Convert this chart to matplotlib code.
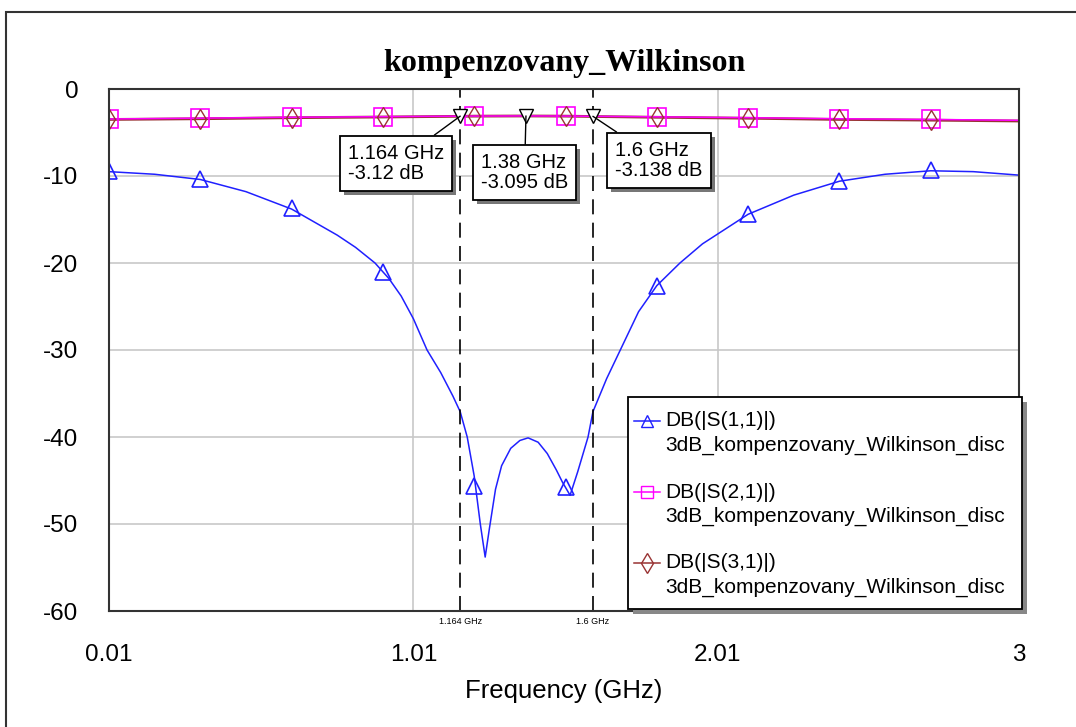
import matplotlib
matplotlib.use("Agg")
import matplotlib.pyplot as plt
import matplotlib.patheffects as pe
from matplotlib.lines import Line2D
from matplotlib.patches import Rectangle

# --- data ---
s11_freq = [0.01, 0.16, 0.31, 0.46, 0.61, 0.76, 0.82, 0.884, 0.93, 0.97, 1.01, 1.055, 1.10,
            1.14, 1.164, 1.187, 1.21, 1.23, 1.246, 1.26, 1.28, 1.30, 1.33, 1.36, 1.387, 1.42,
            1.45, 1.48, 1.50, 1.525, 1.55, 1.584, 1.60, 1.645, 1.69, 1.75, 1.81, 1.886, 1.96,
            2.11, 2.26, 2.41, 2.56, 2.71, 2.85, 3.0]
s11_db = [-9.5, -9.8, -10.4, -11.8, -13.8, -16.8, -18.2, -20.0, -21.8, -23.8, -26.4, -30.0, -32.6,
          -35.3, -37.1, -40.0, -44.5, -50.0, -53.8, -50.5, -46.0, -43.3, -41.3, -40.4, -40.1, -40.6,
          -41.9, -43.8, -45.2, -46.7, -44.0, -40.0, -37.1, -33.3, -30.0, -25.6, -22.6, -20.0, -17.8,
          -14.4, -12.2, -10.6, -9.8, -9.4, -9.5, -9.9]

s21_freq = [0.01, 0.31, 0.61, 0.91, 1.164, 1.21, 1.38, 1.51, 1.6, 1.81, 2.11, 2.41, 2.71, 3.0]
s21_db = [-3.45, -3.35, -3.25, -3.18, -3.12, -3.11, -3.095, -3.11, -3.138, -3.2, -3.3, -3.42, -3.5, -3.6]

s31_freq = [0.01, 0.31, 0.61, 0.91, 1.164, 1.21, 1.38, 1.51, 1.6, 1.81, 2.11, 2.41, 2.71, 3.0]
s31_db = [-3.5, -3.42, -3.3, -3.22, -3.14, -3.12, -3.10, -3.12, -3.16, -3.25, -3.36, -3.5, -3.58, -3.68]

marker_freq = [0.01, 0.31, 0.61, 0.91, 1.21, 1.51, 1.81, 2.11, 2.41, 2.71]
s11_mk_db = [-9.4, -10.3, -13.7, -21.0, -45.6, -45.7, -22.6, -14.4, -10.6, -9.3]
s21_mk_db = [-3.4, -3.35, -3.25, -3.18, -3.11, -3.11, -3.2, -3.3, -3.42, -3.5]
s31_mk_db = [-3.45, -3.4, -3.3, -3.22, -3.13, -3.12, -3.25, -3.36, -3.5, -3.58]

mark_freq = [1.164, 1.38, 1.6]
mark_db = [-3.12, -3.095, -3.138]
mark_text = ["1.164 GHz\n-3.12 dB", "1.38 GHz\n-3.095 dB", "1.6 GHz\n-3.138 dB"]
mark_box_xy = [(0.795, -6.3), (1.232, -7.35), (1.673, -5.95)]
vline_freq = [1.164, 1.6]
vline_text = ["1.164 GHz", "1.6 GHz"]

xticks = [0.01, 1.01, 2.01, 3]
xtick_labels = ["0.01", "1.01", "2.01", "3"]
yticks = [0, -10, -20, -30, -40, -50, -60]

legend_names = ["DB(|S(1,1)|)", "DB(|S(2,1)|)", "DB(|S(3,1)|)"]
legend_source = "3dB_kompenzovany_Wilkinson_disc"

c11 = "#2020ff"
c21 = "#ff00ff"
c31 = "#993333"

plt.rcParams["font.family"] = ["Liberation Sans", "DejaVu Sans"]
plt.rcParams["axes.unicode_minus"] = False

W, H = 1076, 727
fig = plt.figure(figsize=(W / 100, H / 100), dpi=100)
ax = fig.add_axes([109 / W, 1 - 611 / H, 910 / W, 522 / H])


def px(x, y):
    # pixel position (from top-left) -> figure fraction
    return x / W, 1 - y / H


# outer frame
fig.patches.append(Rectangle((0.006, -0.05), 1.2, 1.034, transform=fig.transFigure,
                             fill=False, edgecolor="#333333", linewidth=1.5))

ax.plot(s11_freq, s11_db, color=c11, lw=1.1)
ax.plot(marker_freq, s11_mk_db, ls="none", marker="^", ms=12, mfc="none", mec=c11, mew=1.2)

ax.plot(s31_freq, s31_db, color=c31, lw=2.0)
ax.plot(s21_freq, s21_db, color=c21, lw=1.1)
ax.plot(marker_freq, s21_mk_db, ls="none", marker="s", ms=13, mfc="none", mec=c21, mew=1.2)
ax.plot(marker_freq, s31_mk_db, ls="none", marker="d", ms=10, mfc="none", mec=c31, mew=1.0)

for f in vline_freq:
    ax.axvline(f, color="black", lw=1.2, ls=(0, (9, 5)))

ax.plot(mark_freq, mark_db, ls="none", marker="v", ms=10, mfc="white", mec="black", mew=1.0, zorder=5)
for f, d, t, xy in zip(mark_freq, mark_db, mark_text, mark_box_xy):
    a = ax.annotate(t, xy=(f, d), xytext=xy, textcoords="data", ha="left", va="top",
                    fontsize=14.5, linespacing=1.05,
                    bbox=dict(boxstyle="square,pad=0.4", fc="white", ec="black", lw=1.3),
                    arrowprops=dict(arrowstyle="-", color="black", lw=1.0, shrinkA=0, shrinkB=0),
                    zorder=6)
    a.get_bbox_patch().set_path_effects([pe.SimplePatchShadow(offset=(3, -3), shadow_rgbFace="#777777", alpha=1.0),
                                         pe.Normal()])

for f, t in zip(vline_freq, vline_text):
    ax.text(f, -0.012, t, transform=ax.get_xaxis_transform(), ha="center", va="top", fontsize=6.5)

ax.set_xlim(0.01, 3)
ax.set_ylim(-60, 0)
ax.set_xticks(xticks)
ax.set_xticklabels(xtick_labels)
ax.set_yticks(yticks)
ax.tick_params(axis="y", length=0, labelsize=17.5, pad=22)
ax.tick_params(axis="x", length=0, labelsize=17.5, pad=24)
ax.grid(True, color="#c8c8c8", lw=1.2)
ax.set_axisbelow(True)
for s in ax.spines.values():
    s.set_linewidth(1.5)
    s.set_color("#333333")

ax.set_xlabel("Frequency (GHz)", fontsize=18.5, labelpad=9)
ax.set_title("kompenzovany_Wilkinson", fontsize=23, fontweight="bold",
             family=["Liberation Serif", "DejaVu Serif"], pad=13)

# legend box drawn as in the reference (handle on first text line)
lx0, ly0, lx1, ly1 = 628, 397, 1022, 609
fig.patches.append(Rectangle(px(lx0 + 5, ly1 + 5), (lx1 - lx0) / W, (ly1 - ly0) / H,
                             transform=fig.transFigure, fc="#888888", ec="none", zorder=7))
fig.patches.append(Rectangle(px(lx0, ly1), (lx1 - lx0) / W, (ly1 - ly0) / H,
                             transform=fig.transFigure, fc="white", ec="black", lw=1.3, zorder=8))
styles = [(c11, "^"), (c21, "s"), (c31, "d")]
for i, (name, (col, mk)) in enumerate(zip(legend_names, styles)):
    y1 = 421 + 71 * i
    y2 = y1 + 24
    xs = [px(634, 0)[0], px(647, 0)[0], px(660, 0)[0]]
    yy = px(0, y1)[1]
    fig.add_artist(Line2D(xs, [yy] * 3, transform=fig.transFigure, color=col, lw=1.1,
                          marker=mk, markevery=[1], ms=9 if mk != "d" else 10,
                          mfc="none", mec=col, zorder=9))
    fig.text(*px(665, y1), name, fontsize=15, va="center", ha="left", zorder=9)
    fig.text(*px(665, y2), legend_source, fontsize=15, va="center", ha="left", zorder=9)

fig.savefig("out.png", dpi=100)
